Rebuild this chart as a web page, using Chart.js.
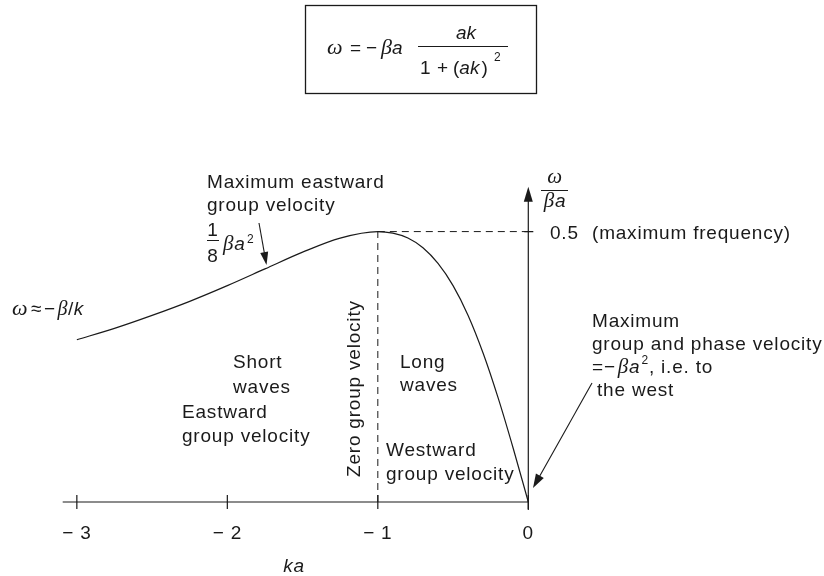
<!DOCTYPE html>
<html>
<head>
<meta charset="utf-8">
<script src="https://cdn.jsdelivr.net/npm/chart.js@4"></script>
<style>
html, body { margin: 0; padding: 0; background: #fff; }
#wrap { width: 824px; height: 576px; }
</style>
</head>
<body>
<div id="wrap"><canvas id="myChart" width="824" height="576"></canvas></div>
<script>
// values (omega / (beta a) against ka)
const ka_values = [-3, -2.75, -2.5, -2.25, -2, -1.75, -1.5, -1.25, -1, -0.9, -0.8, -0.7, -0.6, -0.5, -0.4, -0.3, -0.2, -0.1, 0]
const omega_values = [0.30, 0.321, 0.345, 0.371, 0.40, 0.431, 0.462, 0.488, 0.50, 0.497, 0.488, 0.47, 0.441, 0.40, 0.345, 0.275, 0.192, 0.099, 0]

// dashed guides through the maximum
const zero_group_ka = [-1, -1]
const zero_group_values = [0, 0.5]
const max_freq_ka = [-1, 0]
const max_freq_values = [0.5, 0.5]

const x_ticks = [-3, -2, -1, 0]
const x_tick_labels = ['− 3', '− 2', '− 1', '0']
const y_ticks = [0.5]
const y_tick_labels = ['0.5']

const INK = '#1a1a1a'
const SANS = '"Liberation Sans", Arial, Helvetica, sans-serif'
const SERIF = '"Liberation Serif", "Times New Roman", serif'

function sans(size, italic) { return (italic ? 'italic ' : '') + size + 'px ' + SANS }
function serif(size) { return 'italic ' + size + 'px ' + SERIF }

function toPoints(xs, ys) {
    return xs.map((x, i) => ({x: x, y: ys[i]}))
}

// draw a row of differently styled pieces, left to right
function drawRuns(ctx, x, y, runs) {
    let cx = x
    for (const r of runs) {
        ctx.font = r[1]
        ctx.fillText(r[0], cx, y + (r[2] || 0))
        cx += ctx.measureText(r[0]).width + (r[3] || 0)
    }
    return cx
}

function runsWidth(ctx, runs) {
    let w = 0
    for (const r of runs) {
        ctx.font = r[1]
        w += ctx.measureText(r[0]).width + (r[3] || 0)
    }
    return w
}

function arrow(ctx, x1, y1, x2, y2, len, half) {
    const a = Math.atan2(y2 - y1, x2 - x1)
    ctx.beginPath()
    ctx.moveTo(x1, y1)
    ctx.lineTo(x2 - Math.cos(a) * len * 0.6, y2 - Math.sin(a) * len * 0.6)
    ctx.stroke()
    ctx.beginPath()
    ctx.moveTo(x2, y2)
    ctx.lineTo(x2 - Math.cos(a) * len - Math.sin(a) * half, y2 - Math.sin(a) * len + Math.cos(a) * half)
    ctx.lineTo(x2 - Math.cos(a) * len + Math.sin(a) * half, y2 - Math.sin(a) * len - Math.cos(a) * half)
    ctx.closePath()
    ctx.fill()
}

const annotations = {
    id: 'annotations',
    afterDraw(chart) {
        const ctx = chart.ctx
        const xs = chart.scales.x
        const ys = chart.scales.y
        const area = chart.chartArea
        const x0 = xs.getPixelForValue(0)
        const y0 = ys.getPixelForValue(0)

        ctx.save()
        ctx.strokeStyle = INK
        ctx.fillStyle = INK
        ctx.lineWidth = 1.2
        ctx.textBaseline = 'alphabetic'

        // horizontal axis and ticks
        ctx.beginPath()
        ctx.moveTo(area.left, y0)
        ctx.lineTo(x0, y0)
        x_ticks.forEach(t => {
            const px = xs.getPixelForValue(t)
            ctx.moveTo(px, y0 - 7)
            ctx.lineTo(px, y0 + 7)
        })
        // vertical axis tick at 0.5
        y_ticks.forEach(t => {
            const py = ys.getPixelForValue(t)
            ctx.moveTo(x0 - 4, py)
            ctx.lineTo(x0 + 5, py)
        })
        ctx.stroke()
        // vertical axis with arrow
        arrow(ctx, x0, y0 + 8, x0, area.top, 15, 4.5)

        ctx.letterSpacing = '0.8px'
        ctx.font = sans(19)
        ctx.textAlign = 'center'
        x_ticks.forEach((t, i) => {
            ctx.fillText(x_tick_labels[i], xs.getPixelForValue(t), 539)
        })
        ctx.textAlign = 'left'
        y_ticks.forEach((t, i) => {
            ctx.fillText(y_tick_labels[i], 550, ys.getPixelForValue(t) + 7.5)
        })
        ctx.fillText('(maximum frequency)', 592, 239)

        // axis titles
        ctx.textAlign = 'center'
        ctx.font = sans(19, true)
        ctx.fillText('ka', 294, 572)
        ctx.font = serif(21)
        ctx.fillText('ω', 555, 183)
        ctx.textAlign = 'left'
        let ba = [['β', serif(21)], ['a', sans(19, true)]]
        drawRuns(ctx, 555 - runsWidth(ctx, ba) / 2, 207, ba)
        ctx.beginPath()
        ctx.lineWidth = 1
        ctx.moveTo(541, 190.5)
        ctx.lineTo(568, 190.5)
        ctx.stroke()

        // formula box
        ctx.lineWidth = 1.3
        ctx.strokeRect(305.5, 5.5, 231, 88)
        ctx.letterSpacing = '0px'
        drawRuns(ctx, 327, 54, [['ω', serif(22)]])
        drawRuns(ctx, 350, 54, [['=', sans(19)]])
        drawRuns(ctx, 366, 54, [['−', sans(19)]])
        drawRuns(ctx, 381, 54, [['β', serif(22)], ['a', sans(19, true)]])
        ctx.lineWidth = 1
        ctx.beginPath()
        ctx.moveTo(418, 46.5)
        ctx.lineTo(508, 46.5)
        ctx.stroke()
        ctx.textAlign = 'center'
        ctx.font = sans(19, true)
        ctx.fillText('ak', 466, 39)
        ctx.textAlign = 'left'
        drawRuns(ctx, 420, 74, [['1', sans(19)]])
        drawRuns(ctx, 437, 74, [['+', sans(19)]])
        drawRuns(ctx, 453, 74, [['(', sans(19)], ['ak', sans(19, true), 0, 2], [')', sans(19)]])
        drawRuns(ctx, 494, 61, [['2', sans(12)]])

        // left annotations
        ctx.letterSpacing = '0.8px'
        ctx.font = sans(19)
        ctx.fillText('Maximum eastward', 207, 188)
        ctx.fillText('group velocity', 207, 211)
        ctx.textAlign = 'center'
        ctx.fillText('1', 213, 236)
        ctx.fillText('8', 213, 262)
        ctx.textAlign = 'left'
        ctx.beginPath()
        ctx.moveTo(207, 240.5)
        ctx.lineTo(219, 240.5)
        ctx.stroke()
        drawRuns(ctx, 223, 250, [['β', serif(21)], ['a', sans(19, true), 0, 1]])
        drawRuns(ctx, 247, 243, [['2', sans(12)]])
        ctx.lineWidth = 1.1
        arrow(ctx, 259, 223, 266.5, 265, 13, 4)

        ctx.letterSpacing = '0.5px'
        drawRuns(ctx, 12, 315, [['ω', serif(22), 0, 3], ['≈', sans(19), 0, 2], ['−', sans(19), 0, 2], ['β', serif(20)], ['/', sans(19)], ['k', sans(19, true)]])
        ctx.letterSpacing = '0.8px'

        ctx.font = sans(19)
        ctx.fillText('Short', 233, 368)
        ctx.fillText('waves', 233, 393)
        ctx.fillText('Eastward', 182, 418)
        ctx.fillText('group velocity', 182, 442)
        ctx.fillText('Long', 400, 368)
        ctx.fillText('waves', 400, 391)
        ctx.fillText('Westward', 386, 456)
        ctx.fillText('group velocity', 386, 480)

        ctx.save()
        ctx.translate(360, 477)
        ctx.rotate(-Math.PI / 2)
        ctx.fillText('Zero group velocity', 0, 0)
        ctx.restore()

        // right annotations
        ctx.font = sans(19)
        ctx.fillText('Maximum', 592, 327)
        ctx.fillText('group and phase velocity', 592, 350)
        drawRuns(ctx, 592, 373, [['=', sans(19)], ['−', sans(19), 0, 2], ['β', serif(21)], ['a', sans(19, true), 0, 1], ['2', sans(12), -9], [', i.e. to', sans(19)]])
        ctx.fillText('the west', 597, 396)
        ctx.lineWidth = 1.1
        arrow(ctx, 592, 383, 533, 488, 14, 4.5)

        ctx.restore()
    }
}

const ctx = document.getElementById('myChart').getContext('2d')
const myChart = new Chart(ctx, {
    type: 'line',
    data: {
        datasets: [
            {
                label: 'dispersion',
                data: toPoints(ka_values, omega_values),
                borderColor: INK,
                borderWidth: 1.2,
                pointRadius: 0,
                cubicInterpolationMode: 'monotone',
                fill: false,
                clip: false
            },
            {
                label: 'zero group velocity',
                data: toPoints(zero_group_ka, zero_group_values),
                borderColor: INK,
                borderWidth: 1,
                borderDash: [7, 5],
                pointRadius: 0,
                fill: false,
                clip: false
            },
            {
                label: 'maximum frequency',
                data: toPoints(max_freq_ka, max_freq_values),
                borderColor: INK,
                borderWidth: 1,
                borderDash: [7, 5],
                pointRadius: 0,
                fill: false,
                clip: false
            }
        ]
    },
    options: {
        responsive: false,
        animation: false,
        devicePixelRatio: 1,
        layout: {
            padding: {left: 62.7, right: 295.7, top: 186.7, bottom: 74}
        },
        plugins: {
            legend: {display: false},
            tooltip: {enabled: false}
        },
        scales: {
            x: {type: 'linear', min: -3.094, max: 0, display: false},
            y: {type: 'linear', min: 0, max: 0.583, display: false}
        }
    },
    plugins: [annotations]
})
</script>
</body>
</html>
